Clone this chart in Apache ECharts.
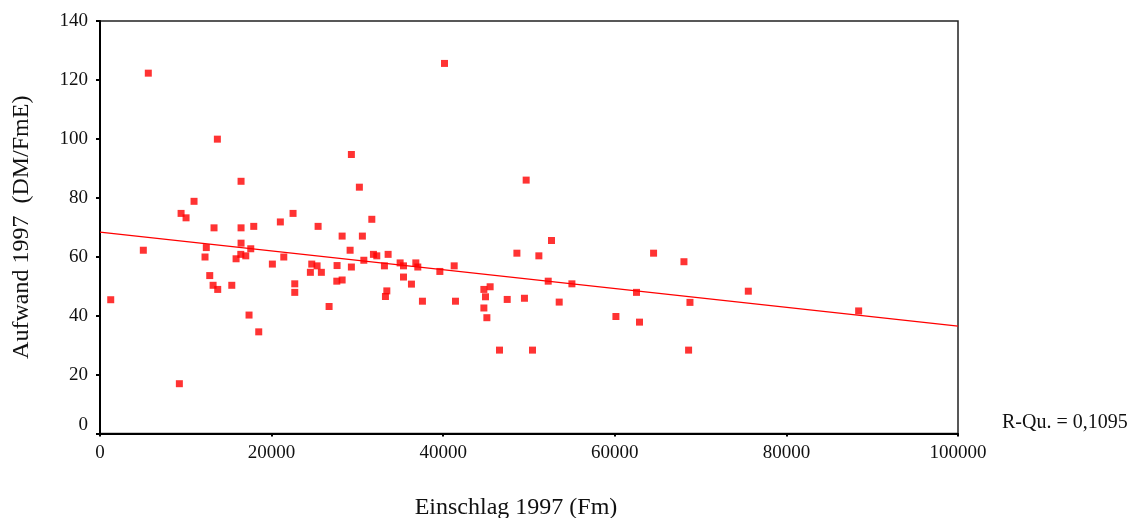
<!DOCTYPE html>
<html>
<head>
<meta charset="utf-8">
<script src="https://cdn.jsdelivr.net/npm/echarts@6/dist/echarts.min.js"></script>
<style>html,body{margin:0;padding:0;background:#fff;}#c{width:1131px;height:518px;}</style>
</head>
<body>
<div id="c"></div>
<script>
// Einschlag 1997 (Fm)
const einschlag = [1250,5050,5630,9250,9450,10030,10960,12240,12390,12790,13180,13290,13680,13720,15360,15860,16440,16440,16440,16410,16990,17370,17570,17920,18500,20090,21020,21420,22500,22700,22700,24520,24680,25300,25420,25800,26700,27600,27630,28220,28220,29150,29300,29300,30230,30580,30750,31680,31870,32260,33150,33270,33430,33580,34980,35370,35370,36300,36810,37040,37580,39610,40150,41280,41430,44740,44740,44930,45090,45470,46560,47460,48590,49470,49670,50410,51150,52240,52620,53520,55000,60130,62530,62880,64520,68060,68600,68760,75560,88420];
// Aufwand 1997 (DM/FmE)
const aufwand = [45.4,62.2,122.3,16.9,74.7,73.2,78.8,59.9,63.1,53.6,50.3,69.8,99.9,48.9,50.3,59.3,85.6,69.8,64.6,60.8,60.3,40.2,62.7,70.3,34.5,57.5,71.8,59.9,74.7,50.8,47.9,54.7,57.5,56.9,70.3,54.7,43.1,51.7,57.0,67.0,52.1,62.2,94.7,56.5,83.6,67.0,58.8,72.7,60.8,60.3,56.9,46.5,48.4,60.8,57.9,56.9,53.1,50.7,57.9,56.5,44.9,55.0,125.6,56.9,44.9,48.9,42.6,46.4,39.3,49.8,28.3,45.5,61.2,45.9,86.0,28.3,60.3,51.7,65.5,44.6,50.8,39.7,47.9,37.8,61.2,58.3,28.3,44.5,48.3,41.6];
// linear fit line
const fitX = [0, 100000];
const fitY = [68.35, 36.45];
const rSquared = "R-Qu. = 0,1095";
const xTicks = [0, 20000, 40000, 60000, 80000, 100000];
const yTicks = [0, 20, 40, 60, 80, 100, 120, 140];

const points = einschlag.map((x, i) => [x, aufwand[i]]);
const fitLine = fitX.map((x, i) => [x, fitY[i]]);
const font = '"Liberation Serif", "DejaVu Serif", serif';

const chart = echarts.init(document.getElementById('c'), null, {renderer: 'canvas'});
chart.setOption({
  animation: false,
  backgroundColor: '#fff',
  grid: {left: 100, right: 173, top: 21, bottom: 84.5, show: true, borderColor: '#222', borderWidth: 1.5,
         backgroundColor: 'transparent', containLabel: false, outerBoundsMode: 'none'},
  xAxis: {
    type: 'value', min: xTicks[0], max: xTicks[xTicks.length - 1], interval: 20000,
    axisLine: {show: true, onZero: false, lineStyle: {color: '#000', width: 2}},
    axisTick: {show: true, length: 3, lineStyle: {color: '#000', width: 2}},
    splitLine: {show: false},
    axisLabel: {fontFamily: font, fontSize: 19, color: '#111', margin: 10, formatter: v => String(v)},
    name: 'Einschlag 1997 (Fm)', nameLocation: 'middle', nameGap: 62,
    nameTextStyle: {fontFamily: font, fontSize: 24, color: '#111', padding: [0, 26, 0, 0]}
  },
  yAxis: {
    type: 'value', min: yTicks[0], max: yTicks[yTicks.length - 1], interval: 20,
    axisLine: {show: true, lineStyle: {color: '#000', width: 2}},
    axisTick: {show: true, length: 4, lineStyle: {color: '#000', width: 2}},
    splitLine: {show: false},
    axisLabel: {fontFamily: font, fontSize: 19, color: '#111', margin: 12,
      formatter: v => v === 0 ? '{z|0}' : String(v),
      rich: {z: {fontFamily: font, fontSize: 19, color: '#111', padding: [0, 0, 16, 0]}}},
    name: 'Aufwand 1997  (DM/FmE)', nameLocation: 'middle', nameGap: 66,
    nameTextStyle: {fontFamily: font, fontSize: 24, color: '#111'}
  },
  graphic: [{
    type: 'text', left: 1002, top: 413,
    style: {text: rSquared, font: '20px ' + font, fill: '#111'}
  }],
  series: [{
    type: 'scatter', data: points, symbol: 'rect', symbolSize: 7,
    itemStyle: {color: '#ff0000'}, z: 3
  }, {
    type: 'line', data: fitLine, showSymbol: false, symbol: 'none',
    lineStyle: {color: '#ff0000', width: 1.3}, z: 2
  }]
});
</script>
</body>
</html>
